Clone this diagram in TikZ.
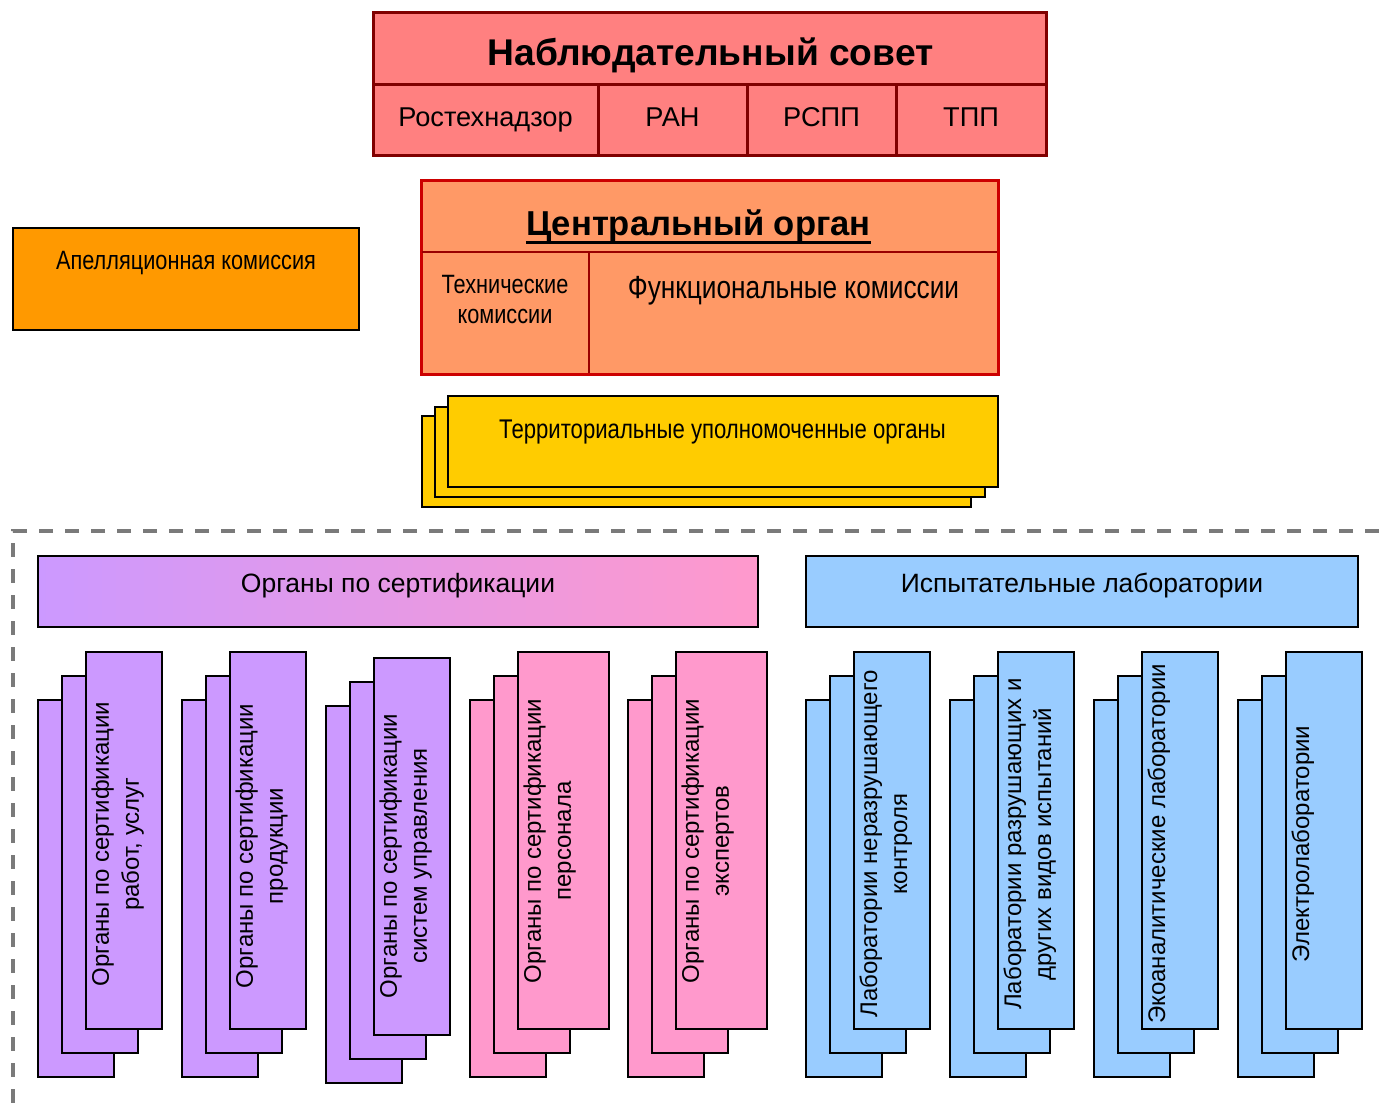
\documentclass[tikz,border=0pt]{standalone}
\usepackage{fontspec}
\setmainfont{Liberation Sans}
\newfontfamily\narrowfont[FakeStretch=0.82]{Liberation Sans}
\definecolor{nsfill}{HTML}{FF8080}
\definecolor{nsline}{HTML}{800000}
\definecolor{cofill}{HTML}{FF9966}
\definecolor{coline}{HTML}{CC0000}
\definecolor{coinner}{HTML}{990000}
\definecolor{apfill}{HTML}{FF9900}
\definecolor{tefill}{HTML}{FFCC00}
\definecolor{cpurple}{HTML}{CC99FF}
\definecolor{cpink}{HTML}{FF99CC}
\definecolor{cblue}{HTML}{99CCFF}
\definecolor{framegray}{HTML}{7A7A7A}
\tikzset{
  card/.style={draw=black, line width=1pt},
  lbl/.style={inner sep=0pt, anchor=base, text=black},
  vlbl/.style={rotate=90, anchor=north, inner sep=0pt, align=center, text=black,
    font=\fontsize{12}{15}\selectfont},
}
\newcommand\cardstack[4]{%
  \draw[card, fill=#4] (#1,#2) rectangle ++(76,377);
  \draw[card, fill=#4] (#1+24,#2-24) rectangle ++(76,377);
  \draw[card, fill=#4] (#1+48,#2-48) rectangle ++(#3,377);
}
\begin{document}
\begin{tikzpicture}[x=0.5pt, y=-0.5pt]
\useasboundingbox (0,0) rectangle (1379,1109);

% Наблюдательный совет
\draw[fill=nsfill, draw=nsline, line width=1.5pt] (373,12) rectangle (1046,155);
\draw[draw=nsline, line width=1.5pt] (373,84) -- (1046,84)
  (598,84) -- (598,155) (747,84) -- (747,155) (896,84) -- (896,155);
\node[lbl, font=\bfseries\fontsize{18.6}{22}\selectfont] (ns) at (710.5,65) {Наблюдательный совет};
\node[lbl, font=\fontsize{13.6}{17}\selectfont] (rtn) at (485.5,126) {Ростехнадзор};
\node[lbl, font=\fontsize{13.6}{17}\selectfont] (ran) at (672.5,126) {РАН};
\node[lbl, font=\fontsize{13.6}{17}\selectfont] (rspp) at (821.5,126) {РСПП};
\node[lbl, font=\fontsize{13.6}{17}\selectfont] (tpp) at (971,126) {ТПП};

% Центральный орган
\draw[fill=cofill, draw=coline, line width=1.5pt] (421,180) rectangle (998,374);
\draw[draw=coinner, line width=1pt] (422,252) -- (997,252);
\draw[draw=coinner, line width=1.3pt] (589,252) -- (589,373);
\node[lbl, font=\bfseries\fontsize{17.3}{20}\selectfont] (co) at (698.5,235) {Центральный орган};
\draw[line width=1.6pt] ([yshift=-3.6pt]co.base west) -- ([yshift=-3.6pt]co.base east);
\node[lbl, font=\narrowfont\fontsize{13.25}{16}\selectfont] (tk1) at (505,293) {Технические};
\node[lbl, font=\narrowfont\fontsize{13.25}{16}\selectfont] (tk2) at (505,323) {комиссии};
\node[lbl, font=\narrowfont\fontsize{16}{19}\selectfont] (fk) at (793.5,298) {Функциональные комиссии};

% Апелляционная комиссия
\draw[card, fill=apfill] (13,228) rectangle (359,330);
\node[lbl, font=\narrowfont\fontsize{13.25}{16}\selectfont] (ap) at (186,269) {Апелляционная комиссия};

% Территориальные
\draw[card, fill=tefill] (422,416) rectangle (971,507);
\draw[card, fill=tefill] (435,407) rectangle (985,497);
\draw[card, fill=tefill] (448,396) rectangle (998,487);
\node[lbl, font=\narrowfont\fontsize{13.5}{16}\selectfont] (ter) at (722.5,438) {Территориальные уполномоченные органы};

% dashed frame
\draw[framegray, line width=1.8pt, dash pattern=on 7pt off 6pt] (1379,531) -- (13,531) -- (13,1109);

% headers
\draw[card, left color=cpurple, right color=cpink] (38,556) rectangle (758,627);
\node[lbl, font=\fontsize{13.25}{16}\selectfont] (os) at (398,592) {Органы по сертификации};
\draw[card, fill=cblue] (806,556) rectangle (1358,627);
\node[lbl, font=\fontsize{13.25}{16}\selectfont] (il) at (1082,592) {Испытательные лаборатории};

% stacks
\cardstack{38}{700}{76}{cpurple}
\cardstack{182}{700}{76}{cpurple}
\cardstack{326}{706}{76}{cpurple}
\cardstack{470}{700}{91}{cpink}
\cardstack{628}{700}{91}{cpink}
\cardstack{806}{700}{76}{cblue}
\cardstack{950}{700}{76}{cblue}
\cardstack{1094}{700}{76}{cblue}
\cardstack{1238}{700}{76}{cblue}

\node[vlbl] (s1) at (91,844) {Органы по сертификации\\работ, услуг};
\node[vlbl] (s2) at (235,846) {Органы по сертификации\\продукции};
\node[vlbl] (s3) at (379,856) {Органы по сертификации\\систем управления};
\node[vlbl] (s4) at (523,841) {Органы по сертификации\\персонала};
\node[vlbl] (s5) at (681,841) {Органы по сертификации\\экспертов};
\node[vlbl] (s6) at (859,844) {Лаборатории неразрушающего\\контроля};
\node[vlbl] (s7) at (1003,844) {Лаборатории разрушающих и\\других видов испытаний};
\node[vlbl] (s8) at (1147,844) {Экоаналитические лаборатории};
\node[vlbl] (s9) at (1291,844) {Электролаборатории};
\end{tikzpicture}
\end{document}
